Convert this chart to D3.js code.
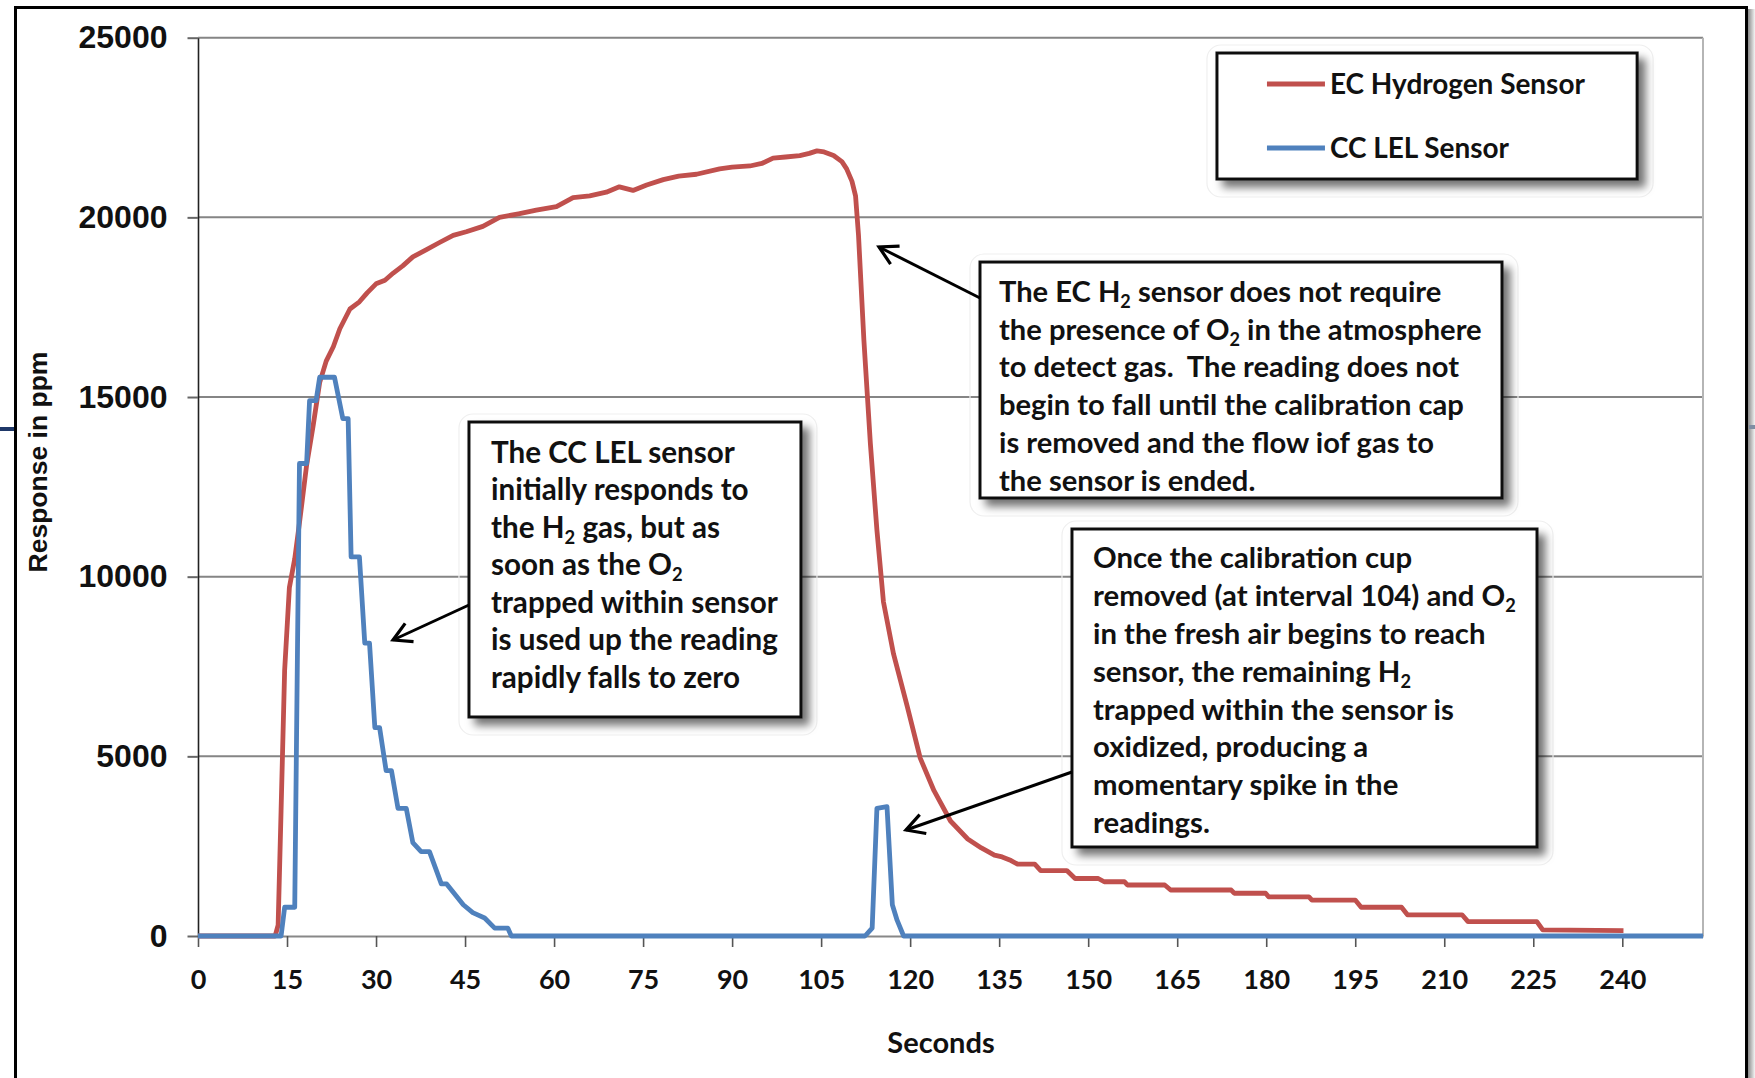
<!DOCTYPE html>
<html><head><meta charset="utf-8">
<script src="https://cdn.jsdelivr.net/npm/d3@7"></script>
<style>body{margin:0;background:#fff;} svg{display:block} .note{white-space:pre}</style>
</head><body>
<script>
// ---------------- DATA ----------------
const xTicks = [0,15,30,45,60,75,90,105,120,135,150,165,180,195,210,225,240];
const yTicks = [0,5000,10000,15000,20000,25000];
const seriesNames = ["EC Hydrogen Sensor", "CC LEL Sensor"];
const xTitle = "Seconds";
const yTitle = "Response in ppm";

// [seconds, ppm]
const ecHydrogen = [
 [0,0],[13,0],[13.5,300],[14,3500],[14.6,7400],[15.4,9700],[16.3,10500],[17.1,11500],[18.3,13100],
 [19.4,14200],[20.5,15400],[21.6,16000],[22.8,16400],[23.9,16900],[25.6,17450],[27.2,17650],[28.5,17900],
 [30,18150],[31.5,18250],[32.9,18450],[34.5,18650],[36.2,18900],[38.5,19100],[40.7,19300],[43,19500],
 [45.2,19600],[48,19750],[50.8,20000],[54,20100],[57,20200],[60.4,20300],[63.2,20550],[66,20600],
 [68.8,20700],[71,20850],[73.3,20750],[75.6,20900],[78.4,21050],[81,21150],[84,21200],[87.9,21350],
 [90,21400],[93,21430],[95,21500],[96.9,21650],[99,21680],[101.4,21720],[103,21780],[104.3,21850],
 [105.5,21820],[107.1,21720],[108.5,21550],[109.3,21350],[110.2,21000],[110.8,20600],[111.3,19500],
 [112.2,16600],[113.3,13700],[114.4,11300],[115.5,9300],[117.2,7850],[119.5,6400],[121.7,4950],
 [124,4050],[126.8,3200],[129.7,2700],[132,2450],[134.2,2250],[135.5,2200],[137,2100],[138.1,2000],
 [141,2000],[142,1820],[146.4,1820],[147.8,1600],[151.7,1600],[152.7,1510],[156.1,1510],[156.6,1420],
 [162.9,1420],[163.9,1280],[174.1,1280],[174.6,1190],[179.9,1190],[180.4,1090],[187.2,1090],[187.7,1000],
 [195,1000],[196,800],[202.8,800],[203.8,590],[213,590],[214,400],[225.6,400],[226.6,170],[240.2,150]
];
const ccLEL = [
 [0,0],[14,0],[14.6,800],[16.3,800],[17.1,13150],[18.3,13150],[18.8,14900],[19.9,14900],[20.5,15550],
 [23,15550],[24.4,14400],[25.3,14400],[25.8,10550],[27.2,10550],[28.1,8150],[28.9,8150],[29.8,5800],
 [30.6,5800],[31.7,4600],[32.6,4600],[33.7,3550],[35.1,3550],[36.2,2600],[37.6,2350],[39,2350],
 [41,1450],[41.9,1450],[44.7,870],[46.3,650],[48.3,500],[50,220],[52.2,220],[52.8,0],[112.4,0],
 [113.6,220],[114.4,3550],[116.1,3600],[117,870],[117.8,440],[118.9,0],[253.6,0]
];

// annotation texts ("_2" = subscript 2)
const noteLEL = ["The CC LEL sensor","initially responds to","the H_2 gas, but as","soon as the O_2",
  "trapped within sensor","is used up the reading","rapidly falls to zero"];
const noteEC = ["The EC H_2 sensor does not require","the presence of O_2 in the atmosphere",
  "to detect gas.  The reading does not","begin to fall until the calibration cap",
  "is removed and the flow iof gas to","the sensor is ended."];
const noteSpike = ["Once the calibration cup","removed (at interval 104) and O_2",
  "in the fresh air begins to reach","sensor, the remaining H_2","trapped within the sensor is",
  "oxidized, producing a","momentary spike in the","readings."];

// ---------------- LAYOUT ----------------
const W = 1755, H = 1078;
const svg = d3.select("body").append("svg").attr("width", W).attr("height", H);
const x = d3.scaleLinear().domain([0, 253.6]).range([198, 1703]);
const y = d3.scaleLinear().domain([0, 25000]).range([936, 37.7]);

const defs = svg.append("defs");
const sh = defs.append("filter").attr("id","shadow").attr("x","-10%").attr("y","-10%").attr("width","130%").attr("height","140%");
sh.append("feDropShadow").attr("dx",7).attr("dy",7).attr("stdDeviation",4).attr("flood-color","#000").attr("flood-opacity",0.55);
const mk = defs.append("marker").attr("id","arrow").attr("markerUnits","userSpaceOnUse")
  .attr("viewBox","-22 -14 26 28").attr("refX",0).attr("refY",0)
  .attr("markerWidth",26).attr("markerHeight",28).attr("orient","auto");
mk.append("path").attr("d","M-18,-10 L0,0 L-18,10").attr("fill","none").attr("stroke","#000")
  .attr("stroke-width",3.2).attr("stroke-linejoin","miter");
const gr = defs.append("linearGradient").attr("id","frameSh");
gr.append("stop").attr("offset","0").attr("stop-color","#8a8a8a");
gr.append("stop").attr("offset","1").attr("stop-color","#f4f4f4");

// outer frame
svg.append("rect").attr("x",1748).attr("y",9).attr("width",7).attr("height",H).attr("fill","url(#frameSh)");
svg.append("rect").attr("x",15.5).attr("y",7.5).attr("width",1731).attr("height",1100)
  .attr("fill","none").attr("stroke","#000").attr("stroke-width",3);
svg.append("line").attr("x1",0).attr("x2",14).attr("y1",429).attr("y2",429).attr("stroke","#1f3868").attr("stroke-width",4);
svg.append("line").attr("x1",1749).attr("x2",1755).attr("y1",427).attr("y2",427).attr("stroke","#7f8ea3").attr("stroke-width",4);

// gridlines
svg.append("g").selectAll("line").data(yTicks.filter(d => d > 0)).join("line")
  .attr("x1", x(0)).attr("x2", x.range()[1]).attr("y1", d => y(d)).attr("y2", d => y(d))
  .attr("stroke","#858585").attr("stroke-width",2);
// right plot border
svg.append("line").attr("x1",x.range()[1]).attr("x2",x.range()[1]).attr("y1",y(25000)).attr("y2",y(0))
  .attr("stroke","#b5b5b5").attr("stroke-width",2);

// y axis
const yAx = svg.append("g").attr("transform",`translate(${x(0)},0)`)
  .call(d3.axisLeft(y).tickValues(yTicks).tickSize(10.5).tickSizeOuter(0).tickPadding(20).tickFormat(d3.format("d")));
yAx.select(".domain").attr("stroke","#222").attr("stroke-width",1.6);
yAx.selectAll(".tick line").attr("stroke","#666").attr("stroke-width",2);
yAx.selectAll("text").attr("font-family","'Liberation Sans', Arial, sans-serif").attr("font-weight","bold")
  .attr("font-size",32).attr("fill","#111");

// x axis
const xAx = svg.append("g").attr("transform",`translate(0,${y(0)})`)
  .call(d3.axisBottom(x).tickValues(xTicks).tickSize(11).tickSizeOuter(0).tickFormat(d3.format("d")));
xAx.select(".domain").attr("stroke","#888").attr("stroke-width",2);
xAx.selectAll(".tick line").attr("stroke","#555").attr("stroke-width",1.6);
xAx.selectAll("text").attr("y",53).attr("dy",null).attr("font-family","Lato, sans-serif").attr("font-weight","bold")
  .attr("font-size",27).attr("fill","#111");

// axis titles
svg.append("text").attr("x",941).attr("y",1053).attr("text-anchor","middle")
  .attr("font-family","Lato, sans-serif").attr("font-weight","bold").attr("font-size",29).attr("fill","#111").text(xTitle);
svg.append("text").attr("transform","translate(47,462) rotate(-90)").attr("text-anchor","middle")
  .attr("font-family","'Liberation Sans', Arial, sans-serif").attr("font-weight","bold").attr("font-size",26.5)
  .attr("fill","#111").text(yTitle);

// series
const line = d3.line().x(d => x(d[0])).y(d => y(d[1]));
const colors = ["#C0504D", "#4F81BD"];
svg.append("path").datum(ecHydrogen).attr("d",line).attr("fill","none").attr("stroke",colors[0])
  .attr("stroke-width",4.8).attr("stroke-linejoin","round");
svg.append("path").datum(ccLEL).attr("d",line).attr("fill","none").attr("stroke",colors[1])
  .attr("stroke-width",4.8).attr("stroke-linejoin","round");

// helper: multi-line text with subscripts, fit to target width
function writeLines(g, lines, tx, ty, lh, refIdx, targetW) {
  let fs = 26;
  const t = g.append("text").attr("class","note").attr("font-family","Lato, sans-serif")
    .attr("font-weight","bold").attr("fill","#111");
  lines.forEach((ln, i) => {
    const parts = ln.split("_2");
    const row = t.append("tspan").attr("x", tx).attr("y", ty + i * lh);
    parts.forEach((p, j) => {
      if (j > 0) {
        row.append("tspan").attr("font-size","62%").attr("dy", 6).text("2");
        row.append("tspan").attr("dy", -6).text(p);
      } else row.append("tspan").text(p);
    });
  });
  t.attr("font-size", fs);
  const rows = t.selectAll(":scope > tspan").nodes();
  const w = rows[refIdx].getComputedTextLength();
  if (w > 0) t.attr("font-size", fs * targetW / w);
  return t;
}

function box(x0, y0, x1, y1) {
  const g = svg.append("g");
  g.append("rect").attr("x", x0 - 10).attr("y", y0 - 8).attr("width", x1 - x0 + 26).attr("height", y1 - y0 + 26)
    .attr("rx", 14).attr("fill", "none").attr("stroke", "#efefef").attr("stroke-width", 1.2);
  g.append("rect").attr("x", x0).attr("y", y0).attr("width", x1 - x0).attr("height", y1 - y0)
    .attr("fill", "#fff").attr("stroke", "#111").attr("stroke-width", 3).attr("filter", "url(#shadow)");
  return g;
}
function arrow(x0, y0, x1, y1) {
  svg.append("line").attr("x1", x0).attr("y1", y0).attr("x2", x1).attr("y2", y1)
    .attr("stroke", "#000").attr("stroke-width", 3).attr("marker-end", "url(#arrow)");
}

// legend
{
  const x0 = x(171.7), y0 = y(24574), x1 = x(242.5), y1 = y(21067);
  const g = box(x0, y0, x1, y1);
  const rowsY = [84, 148];
  seriesNames.forEach((nm, i) => {
    g.append("line").attr("x1", x0 + 50).attr("x2", x0 + 108).attr("y1", rowsY[i]).attr("y2", rowsY[i])
      .attr("stroke", colors[i]).attr("stroke-width", 5);
  });
  writeLines(g, seriesNames, x0 + 113, 94, 64, 0, 255);
}

// annotation 1 (LEL)
{
  const x0 = x(45.66), y0 = y(14305), x1 = x(101.6), y1 = y(6095);
  const g = box(x0, y0, x1, y1);
  writeLines(g, noteLEL, x0 + 22, y0 + 41, 37.5, 4, 287);
  arrow(x0, y(9212), x(32.86), y(8238));
}
// annotation 2 (EC)
{
  const x0 = x(131.77), y0 = y(18757), x1 = x(219.73), y1 = y(12190);
  const g = box(x0, y0, x1, y1);
  writeLines(g, noteEC, x0 + 19, y0 + 40, 37.7, 1, 483);
  arrow(x0, y(17755), x(114.75), y(19175));
}
// annotation 3 (spike)
{
  const x0 = x(147.27), y0 = y(11327), x1 = x(225.63), y1 = y(2477);
  const g = box(x0, y0, x1, y1);
  writeLines(g, noteSpike, x0 + 21, y0 + 39, 37.9, 1, 423);
  arrow(x0, y(4564), x(119.3), y(2950));
}
</script>
</body></html>
